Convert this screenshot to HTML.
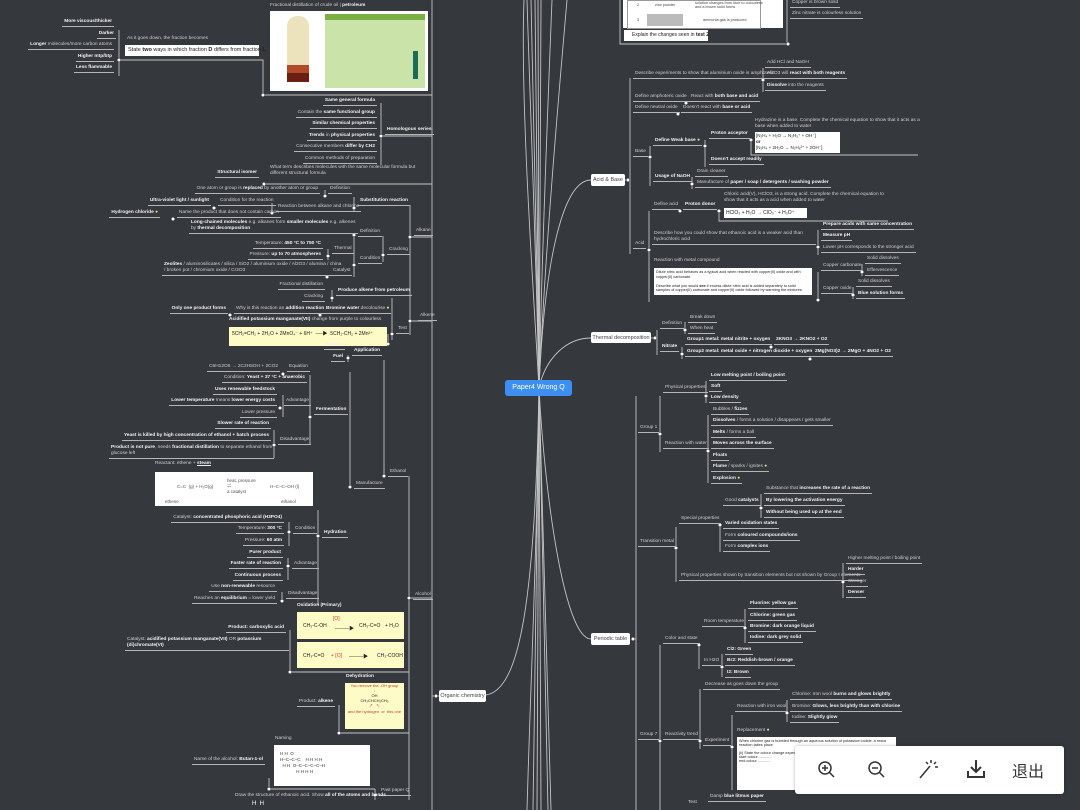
<!DOCTYPE html>
<html><head><meta charset="utf-8"><style>
body{margin:0;width:1080px;height:810px;overflow:hidden;background:#35383d;font-family:"Liberation Sans","Noto Sans CJK SC",sans-serif;}
#w{position:relative;width:1080px;height:810px;}
svg{position:absolute;left:0;top:0;}
.l{position:absolute;white-space:nowrap;font-size:4.8px;line-height:6px;color:#cfcfcf;border-bottom:0.8px solid #b5b5b5;padding:0 2px 1px 2px;}
.l b{color:#f2f2f2}
.nb{border-bottom:none}
.box{position:absolute;background:#fff;color:#222;font-size:5.5px;white-space:nowrap;}
.yb{position:absolute;background:#fdfbc6;color:#222;font-size:5px;}
.node{position:absolute;background:#fff;border-radius:2px;color:#444;font-size:5.5px;text-align:center;line-height:12px;}
</style></head><body><div id="w">
<svg width="1080" height="810" fill="none" stroke="#c4c4c4" stroke-width="0.9">
<!-- central curves -->
<path d="M539 388 C536 250 530 100 527 0"/><path d="M539 388 C537 250 533 100 531 0"/><path d="M539 388 C538 250 536 100 535 0"/>
<path d="M539 388 C539 250 538 100 538 0"/><path d="M539 388 C540 250 541 100 541 0"/><path d="M539 388 C542 250 548 100 552 0"/>
<path d="M539 388 C545 250 560 80 567 0"/><path d="M539 388 C534 300 520 100 524 0"/>
<path d="M539 388 C537 550 530 700 527 810"/><path d="M539 388 C538 550 534 700 533 810"/><path d="M539 388 C539 550 537 700 537 810"/>
<path d="M539 388 C540 550 541 700 541 810"/><path d="M539 388 C542 550 546 700 548 810"/><path d="M539 388 C543 550 548 700 551 810"/>
<path d="M539 388 C535 600 520 690 486 695"/>
<path d="M539 388 C545 250 565 180 591 180"/>
<path d="M539 388 C545 360 565 338 591 338"/>
<path d="M539 388 C545 500 565 639 591 639"/>
<!-- left main vertical -->
<path d="M432 0 V810"/><path d="M432 696 H439"/>
<path d="M409 476 V800"/><path d="M409 598 H432"/>
<!-- petroleum -->
<path d="M119 30 V76"/><path d="M119 60 H263 V95 H432"/><path d="M381 103 V165"/><path d="M381 136 H432"/>
<path d="M264 184 H432"/>
<path d="M410 205 V335"/><path d="M410 237 H432"/><path d="M410 321 H432"/>
<path d="M354 197 V212"/><path d="M325 190 V197"/><path d="M272 203 V214"/>
<path d="M383 236 V262"/><path d="M354 235 V277"/><path d="M328 249 V260"/>
<path d="M332 290 V302"/><path d="M392 298 V340"/><path d="M388 334 V345"/>
<path d="M348 355 V362"/><path d="M384 360 V478"/><path d="M350 372 V488"/><path d="M310 375 V445"/><path d="M283 395 V417"/><path d="M274 430 V458"/>
<path d="M318 510 V605"/><path d="M289 522 V546"/><path d="M288 558 V580"/><path d="M282 592 V603"/>
<path d="M290 630 V672 H409"/><path d="M339 705 V733 H409"/><path d="M269 778 V789 H375"/><path d="M375 789 V800"/>
<!-- right -->
<path d="M620 0 V44 H788"/><path d="M787 0 V44"/>
<path d="M625 180 H630"/><path d="M630 78 V254"/><path d="M763 68 V92"/><path d="M650 146 V186"/><path d="M705 140 V167"/><path d="M751 140 V155 H918"/>
<path d="M692 177 V189"/><path d="M649 211 V302"/><path d="M719 211 V221 H888"/><path d="M818 230 V255"/><path d="M818 272 V300"/><path d="M862 264 V276"/><path d="M853 287 V299"/>
<path d="M651 338 H657"/><path d="M657 330 V355"/><path d="M685 322 V334"/><path d="M682 347 V359"/>
<path d="M633 639 H636"/><path d="M636 396 V810"/><path d="M660 396 V452"/><path d="M706 381 V403"/><path d="M708 415 V483"/>
<path d="M676 527 V582"/><path d="M720 527 V552"/><path d="M761 494 V518"/><path d="M843 563 V598"/>
<path d="M660 645 V810"/><path d="M699 645 V669"/><path d="M745 609 V643"/><path d="M722 654 V677"/>
<path d="M700 689 V749"/><path d="M787 700 V722"/><path d="M732 715 V790"/>
<g fill="#fff" stroke="#35383d" stroke-width="0.6">
<circle cx="119" cy="60" r="1.8"/><circle cx="263" cy="95" r="1.8"/><circle cx="381" cy="136" r="1.8"/><circle cx="264" cy="184" r="1.8"/>
<circle cx="410" cy="237" r="1.8"/><circle cx="410" cy="321" r="1.8"/><circle cx="354" cy="208" r="1.8"/><circle cx="325" cy="196" r="1.8"/><circle cx="272" cy="213" r="1.8"/><circle cx="214" cy="208" r="1.8"/><circle cx="173" cy="219" r="1.8"/>
<circle cx="383" cy="255" r="1.8"/><circle cx="354" cy="235" r="1.8"/><circle cx="354" cy="265" r="1.8"/><circle cx="328" cy="256" r="1.8"/><circle cx="327" cy="277" r="1.8"/>
<circle cx="332" cy="298" r="1.8"/><circle cx="392" cy="334" r="1.8"/><circle cx="320" cy="315" r="1.8"/><circle cx="230" cy="315" r="1.8"/><circle cx="388" cy="344" r="1.8"/>
<circle cx="348" cy="358" r="1.8"/><circle cx="384" cy="476" r="1.8"/><circle cx="350" cy="487" r="1.8"/><circle cx="310" cy="417" r="1.8"/><circle cx="283" cy="374" r="1.8"/><circle cx="280" cy="408" r="1.8"/><circle cx="274" cy="445" r="1.8"/>
<circle cx="318" cy="536" r="1.8"/><circle cx="289" cy="532" r="1.8"/><circle cx="288" cy="566" r="1.8"/><circle cx="282" cy="601" r="1.8"/><circle cx="409" cy="598" r="1.8"/>
<circle cx="290" cy="672" r="1.8"/><circle cx="339" cy="733" r="1.8"/><circle cx="269" cy="789" r="1.8"/><circle cx="375" cy="795" r="1.8"/><circle cx="436" cy="696" r="1.8"/>
<circle cx="788" cy="44" r="1.8"/><circle cx="628" cy="180" r="1.8"/><circle cx="763" cy="80" r="1.8"/><circle cx="686" cy="103" r="1.8"/><circle cx="678" cy="114" r="1.8"/>
<circle cx="650" cy="157" r="1.8"/><circle cx="705" cy="146" r="1.8"/><circle cx="751" cy="140" r="1.8"/><circle cx="692" cy="184" r="1.8"/>
<circle cx="649" cy="250" r="1.8"/><circle cx="680" cy="211" r="1.8"/><circle cx="719" cy="211" r="1.8"/><circle cx="818" cy="247" r="1.8"/><circle cx="818" cy="300" r="1.8"/><circle cx="862" cy="272" r="1.8"/><circle cx="853" cy="295" r="1.8"/>
<circle cx="655" cy="338" r="1.8"/><circle cx="685" cy="330" r="1.8"/><circle cx="682" cy="354" r="1.8"/><circle cx="771" cy="347" r="1.8"/><circle cx="810" cy="359" r="1.8"/>
<circle cx="633" cy="639" r="1.8"/><circle cx="660" cy="434" r="1.8"/><circle cx="706" cy="396" r="1.8"/><circle cx="708" cy="451" r="1.8"/>
<circle cx="676" cy="548" r="1.8"/><circle cx="720" cy="525" r="1.8"/><circle cx="761" cy="508" r="1.8"/><circle cx="843" cy="582" r="1.8"/>
<circle cx="660" cy="741" r="1.8"/><circle cx="699" cy="645" r="1.8"/><circle cx="745" cy="628" r="1.8"/><circle cx="722" cy="667" r="1.8"/><circle cx="700" cy="741" r="1.8"/><circle cx="787" cy="713" r="1.8"/><circle cx="732" cy="747" r="1.8"/>
</g>
</svg>

<!-- center -->
<div style="position:absolute;left:505px;top:380px;width:67px;height:16px;background:#3d8ff2;border-radius:3px;color:#fff;font-size:7px;line-height:16px;text-align:center">Paper4 Wrong Q</div>
<div class="node" style="left:439px;top:690px;width:47px;height:12px">Organic chemistry</div>
<div class="node" style="left:591px;top:174px;width:34px;height:12px">Acid &amp; Base</div>
<div class="node" style="left:591px;top:332px;width:60px;height:11px">Thermal decomposition</div>
<div class="node" style="left:591px;top:633px;width:39px;height:12px">Periodic table</div>

<!-- petroleum -->
<div class="l" style="right:966px;top:19px"><b>More viscous/thicker</b></div>
<div class="l" style="right:964px;top:31px"><b>Darker</b></div>
<div class="l" style="right:966px;top:42px"><b>Longer</b> molecules/more carbon atoms</div>
<div class="l" style="right:966px;top:54px"><b>Higher mtp/btp</b></div>
<div class="l" style="right:966px;top:65px"><b>Less flammable</b></div>
<div class="l nb" style="left:125px;top:36px">As it goes down, the fraction becomes</div>
<div class="box" style="left:125px;top:45px;width:134px;height:11px;line-height:11px;padding-left:3px;box-sizing:border-box">State <b>two</b> ways in which fraction <b>D</b> differs from fraction <b>L</b>.</div>
<div class="l nb" style="left:268px;top:3px">Fractional distillation of crude oil | <b>petroleum</b></div>
<div style="position:absolute;left:270px;top:11px;width:158px;height:80px;background:#fff">
<div style="position:absolute;left:17px;top:5px;width:22px;height:60px;background:#ece3bd;border-radius:10px 10px 0 0"></div>
<div style="position:absolute;left:17px;top:54px;width:22px;height:8px;background:#b34a2a"></div>
<div style="position:absolute;left:17px;top:62px;width:22px;height:9px;background:#6b1f14"></div>
<div style="position:absolute;left:55px;top:3px;width:100px;height:74px;background:#c9e3a8"></div>
<div style="position:absolute;left:55px;top:3px;width:100px;height:6px;background:#7bb045"></div>
<div style="position:absolute;left:143px;top:40px;width:5px;height:28px;background:#1d6a5a"></div>
</div>

<div class="l" style="right:703px;top:98px"><b>Same general formula</b></div>
<div class="l" style="right:703px;top:110px">Contain the <b>same functional group</b></div>
<div class="l" style="right:703px;top:121px"><b>Similar chemical properties</b></div>
<div class="l" style="right:703px;top:133px"><b>Trends</b> in <b>physical properties</b></div>
<div class="l" style="right:703px;top:144px">Consecutive members <b>differ by CH2</b></div>
<div class="l" style="right:703px;top:156px">Common methods of preparation</div>
<div class="l" style="left:385px;top:127px"><b>Homologous series</b></div>
<div class="l nb" style="left:268px;top:165px;white-space:normal;width:150px">What term describes molecules with the same molecular formula but different structural formula</div>
<div class="l" style="right:821px;top:170px"><b>Structural isomer</b></div>

<div class="l" style="right:760px;top:186px">One atom or group is <b>replaced</b> by another atom or group</div>
<div class="l" style="left:328px;top:186px">Definition</div>
<div class="l" style="left:358px;top:198px"><b>Substitution reaction</b></div>
<div class="l" style="left:276px;top:204px">Reaction between alkane and chlorine</div>
<div class="l" style="right:869px;top:198px"><b>Ultra-violet light / sunlight</b></div>
<div class="l" style="left:218px;top:198px">Condition for the reaction</div>
<div class="l" style="right:920px;top:210px"><b>Hydrogen chloride</b> <span style="color:#e8d98a">●</span></div>
<div class="l" style="left:177px;top:210px">Name the product that does not contain carbon</div>
<div class="l" style="left:414px;top:228px">Alkane</div>
<div class="l" style="left:189px;top:220px;line-height:6px"><b>Long-chained molecules</b> e.g. alkanes form <b>smaller molecules</b> e.g. alkenes<br>by <b>thermal decomposition</b></div>
<div class="l" style="left:358px;top:229px">Definition</div>
<div class="l" style="left:387px;top:247px">Cracking</div>
<div class="l" style="left:358px;top:256px">Condition</div>
<div class="l" style="left:332px;top:246px">Thermal</div>
<div class="l" style="right:757px;top:241px">Temperature: <b>450 °C to 750 °C</b></div>
<div class="l" style="right:757px;top:252px">Pressure: <b>up to 70 atmospheres</b></div>
<div class="l" style="left:331px;top:268px">Catalyst</div>
<div class="l" style="left:162px;top:262px"><b>Zeolites</b> / aluminosilicates / silica / SiO2 / aluminium oxide / Al2O3 / alumina / china<br>/ broken pot / chromium oxide / Cr2O3</div>

<div class="l" style="right:755px;top:282px">Fractional distillation</div>
<div class="l" style="right:755px;top:294px">Cracking</div>
<div class="l" style="left:336px;top:288px"><b>Produce alkene from petroleum</b></div>
<div class="l" style="left:418px;top:313px">Alkene</div>
<div class="l" style="left:396px;top:326px">Test</div>
<div class="l" style="left:324px;top:306px"><b>Bromine water</b> decolourise <span style="color:#e8d98a">●</span></div>
<div class="l" style="left:234px;top:306px">Why is this reaction an <b>addition reaction</b></div>
<div class="l" style="right:852px;top:306px"><b>Only one product forms</b></div>
<div class="l nb" style="left:227px;top:317px"><b>Acidified potassium manganate(VII)</b> change from purple to colourless</div>
<div class="yb" style="left:229px;top:327px;width:158px;height:19px;padding:3px;box-sizing:border-box">5CH₂=CH₂ + 2H₂O + 2MnO₄⁻ + 6H⁺ &nbsp;──▶ &nbsp;5CH₂-CH₂ + 2Mn²⁺</div>

<!-- ethanol -->
<div class="l" style="right:735px;top:342px"><b>Solvent</b></div>
<div class="l" style="right:735px;top:354px"><b>Fuel</b></div>
<div class="l" style="left:352px;top:348px"><b>Application</b></div>
<div class="l" style="left:388px;top:469px">Ethanol</div>
<div class="l" style="left:354px;top:481px">Manufacture</div>
<div class="l" style="left:314px;top:407px"><b>Fermentation</b></div>
<div class="l" style="right:800px;top:364px">C6H12O6 → 2C2H5OH + 2CO2</div>
<div class="l" style="left:287px;top:364px">Equation</div>
<div class="l" style="right:773px;top:375px">Condition: <b>Yeast + 37 °C + anaerobic</b></div>
<div class="l" style="right:803px;top:387px"><b>Uses renewable feedstock</b></div>
<div class="l" style="right:803px;top:398px"><b>Lower temperature</b> means <b>lower energy costs</b></div>
<div class="l" style="right:803px;top:410px">Lower pressure</div>
<div class="l" style="left:284px;top:398px">Advantage</div>
<div class="l" style="right:809px;top:421px"><b>Slower rate of reaction</b></div>
<div class="l" style="right:809px;top:433px"><b>Yeast is killed by high concentration of ethanol + batch process</b></div>
<div class="l" style="left:278px;top:437px">Disadvantage</div>
<div class="l" style="left:109px;top:445px"><b>Product is not pure</b>, needs <b>fractional distillation</b> to separate ethanol from<br>glucose left</div>
<div class="l nb" style="left:153px;top:461px">Reactant: ethene + <b style="text-decoration:underline">steam</b></div>
<div class="box" style="left:155px;top:472px;width:158px;height:34px;font-size:4.5px;color:#555"><span style="position:absolute;left:22px;top:12px">C=C &nbsp;(g) + H₂O(g)</span><span style="position:absolute;left:72px;top:6px">heat, pressure<br>⇌<br>a catalyst</span><span style="position:absolute;left:115px;top:12px">H–C–C–OH (l)</span><span style="position:absolute;left:10px;top:27px">ethene</span><span style="position:absolute;left:126px;top:27px">ethanol</span></div>
<div class="l" style="left:322px;top:530px"><b>Hydration</b></div>
<div class="l" style="left:293px;top:526px">Condition</div>
<div class="l" style="right:796px;top:515px">Catalyst: <b>concentrated phosphoric acid (H3PO4)</b></div>
<div class="l" style="right:796px;top:526px">Temperature: <b>300 °C</b></div>
<div class="l" style="right:796px;top:538px">Pressure: <b>60 atm</b></div>
<div class="l" style="right:797px;top:550px"><b>Purer product</b></div>
<div class="l" style="right:797px;top:561px"><b>Faster rate of reaction</b></div>
<div class="l" style="right:797px;top:573px"><b>Continuous process</b></div>
<div class="l" style="left:292px;top:561px">Advantage</div>
<div class="l" style="right:803px;top:584px">Use <b>non-renewable</b> resource</div>
<div class="l" style="right:803px;top:596px">Reaches an <b>equilibrium</b> = lower yield</div>
<div class="l" style="left:286px;top:591px">Disadvantage</div>
<div class="l" style="left:413px;top:592px">Alcohol</div>
<div class="l nb" style="left:295px;top:603px"><b>Oxidation (Primary)</b></div>
<div class="yb" style="left:297px;top:612px;width:107px;height:27px"><span style="position:absolute;left:6px;top:11px">CH₃-C-OH</span><span style="position:absolute;left:36px;top:4px;color:#d33">[O]</span><span style="position:absolute;left:38px;top:13px">────▶</span><span style="position:absolute;left:62px;top:11px">CH₃-C=O</span><span style="position:absolute;left:88px;top:11px">+ H₂O</span></div>
<div class="yb" style="left:297px;top:642px;width:107px;height:26px"><span style="position:absolute;left:6px;top:11px">CH₃-C=O</span><span style="position:absolute;left:34px;top:11px;color:#d33">+ [O]</span><span style="position:absolute;left:52px;top:11px">────▶</span><span style="position:absolute;left:80px;top:11px">CH₃-COOH</span></div>
<div class="l" style="right:794px;top:625px"><b>Product: carboxylic acid</b></div>
<div class="l" style="left:125px;top:637px;width:160px;white-space:normal">Catalyst: <b>acidified potassium manganate(VII)</b> OR <b>potassium (di)chromate(VI)</b></div>
<div class="l nb" style="left:344px;top:674px"><b>Dehydration</b></div>
<div class="yb" style="left:345px;top:683px;width:59px;height:46px;font-size:4px;text-align:center;color:#c33">You remove the -OH group<br>↓<br><span style="color:#222">OH<br>CH₃CHCH₂CH₃</span><br>↗ &nbsp; ↖<br>and the hydrogen &nbsp;or &nbsp;this one</div>
<div class="l" style="right:745px;top:699px">Product: <b>alkene</b></div>
<div class="l nb" style="left:273px;top:736px">Naming</div>
<div class="box" style="left:274px;top:745px;width:96px;height:41px;font-size:4.5px;color:#333"><span style="position:absolute;left:6px;top:6px;line-height:6px">H H &nbsp;O<br>H–C–C–C &nbsp;&nbsp; H H H H<br>&nbsp;&nbsp;H H &nbsp;O–C–C–C–C–H<br>&nbsp;&nbsp;&nbsp;&nbsp;&nbsp;&nbsp;&nbsp;&nbsp;&nbsp;&nbsp;&nbsp;&nbsp; H H H H</span></div>
<div class="l" style="right:815px;top:757px">Name of the alcohol: <b>Butan-1-ol</b></div>
<div class="l" style="left:379px;top:788px">Past paper Q</div>
<div class="l nb" style="left:233px;top:793px">Draw the structure of ethanoic acid. Show <b>all of the atoms and bonds</b>.</div>
<div class="l nb" style="left:250px;top:801px;font-size:6px;color:#fff">H &nbsp;H</div>

<!-- right top -->
<div class="box" style="left:623px;top:0;width:160px;height:28px;font-size:3.8px;color:#444"><div style="position:absolute;left:4px;top:0;width:132px;height:27px;border:0.5px solid #999"></div><span style="position:absolute;left:14px;top:3px">2</span><span style="position:absolute;left:32px;top:3px">zinc powder</span><span style="position:absolute;left:72px;top:1px">solution changes from blue to colourless<br>and a brown solid forms</span><span style="position:absolute;left:14px;top:18px">3</span><div style="position:absolute;left:24px;top:14px;width:36px;height:12px;background:#bbb"></div><span style="position:absolute;left:80px;top:18px">ammonia gas is produced</span></div>
<div class="box" style="left:624px;top:30px;width:84px;height:11px;line-height:11px;font-size:5px;padding-left:8px;box-sizing:border-box">Explain the changes seen in <b>test 2</b>.</div>
<div class="l" style="left:790px;top:0px">Copper is brown solid</div>
<div class="l" style="left:790px;top:11px">Zinc nitrate is colourless solution</div>

<div class="l" style="left:633px;top:71px">Describe experiments to show that aluminium oxide is amphoteric</div>
<div class="l" style="left:765px;top:60px">Add HCl and NaOH</div>
<div class="l" style="left:765px;top:71px">Al2O3 will <b>react with both reagents</b></div>
<div class="l" style="left:765px;top:83px"><b>Dissolve</b> into the reagents</div>
<div class="l" style="left:633px;top:94px">Define amphoteric oxide</div>
<div class="l" style="left:689px;top:94px">React with <b>both base and acid</b></div>
<div class="l" style="left:633px;top:105px">Define neutral oxide</div>
<div class="l" style="left:681px;top:105px">Doesn't react with <b>base or acid</b></div>
<div class="l" style="left:633px;top:149px">Base</div>
<div class="l" style="left:653px;top:138px"><b>Define Weak base</b> <span style="color:#e8d98a">●</span></div>
<div class="l" style="left:709px;top:131px"><b>Proton acceptor</b></div>
<div class="l nb" style="left:753px;top:118px;width:165px;white-space:normal">Hydrazine is a base. Complete the chemical equation to show that it acts as a base when added to water</div>
<div class="box" style="left:755px;top:132px;width:83px;height:19px;font-size:4.5px;line-height:6px;padding:1px">[N₂H₄ + H₂O → N₂H₅⁺ + OH⁻]<br><b>or</b><br>[N₂H₄ + 2H₂O → N₂H₆²⁺ + 2OH⁻]</div>
<div class="l" style="left:709px;top:157px"><b>Doesn't accept readily</b></div>
<div class="l" style="left:653px;top:174px"><b>Usage of NaOH</b></div>
<div class="l" style="left:695px;top:169px">Drain cleaner</div>
<div class="l" style="left:695px;top:180px">Manufacture of <b>paper / soap / detergents / washing powder</b></div>
<div class="l" style="left:652px;top:202px">Define acid</div>
<div class="l" style="left:683px;top:202px"><b>Proton donor</b></div>
<div class="l nb" style="left:722px;top:192px;width:160px;white-space:normal">Chloric acid(V), HClO3, is a strong acid. Complete the chemical equation to show that it acts as a acid when added to water</div>
<div class="box" style="left:724px;top:208px;width:81px;height:10px;font-size:5px;line-height:10px;padding-left:2px">HClO₃ + H₂O → ClO₃⁻ + H₃O⁺</div>
<div class="l" style="left:633px;top:241px">Acid</div>
<div class="l" style="left:652px;top:231px;width:160px;white-space:normal">Describe how you could show that ethanoic acid is a weaker acid than hydrochloric acid</div>
<div class="l" style="left:821px;top:222px"><b>Prepare acids with same concentration</b></div>
<div class="l" style="left:821px;top:233px"><b>Measure pH</b></div>
<div class="l" style="left:821px;top:245px">Lower pH corresponds to the stronger acid</div>
<div class="l nb" style="left:652px;top:258px">Reaction with metal compound</div>
<div class="box" style="left:654px;top:268px;width:158px;height:27px;font-size:3.8px;line-height:4.5px;padding:2px;white-space:normal;box-sizing:border-box">Dilute nitric acid behaves as a typical acid when reacted with copper(II) oxide and with copper(II) carbonate.<br><br>Describe what you would <b>see</b> if excess dilute nitric acid is added separately to solid samples of copper(II) carbonate and copper(II) oxide followed by warming the mixtures.</div>
<div class="l" style="left:821px;top:263px">Copper carbonate</div>
<div class="l" style="left:865px;top:256px">Solid dissolves</div>
<div class="l" style="left:865px;top:268px">Effervescence</div>
<div class="l" style="left:821px;top:286px">Copper oxide</div>
<div class="l" style="left:856px;top:279px">Solid dissolves</div>
<div class="l" style="left:856px;top:291px"><b>Blue solution forms</b></div>

<div class="l" style="left:660px;top:321px">Definition</div>
<div class="l" style="left:688px;top:315px">Break down</div>
<div class="l" style="left:688px;top:326px">When heat</div>
<div class="l" style="left:660px;top:344px"><b>Nitrate</b></div>
<div class="l" style="left:685px;top:337px"><b>Group1 metal: metal nitrite + oxygen</b></div>
<div class="l" style="left:774px;top:337px"><b>2KNO3 → 2KNO2 + O2</b></div>
<div class="l" style="left:685px;top:349px"><b>Group2 metal: metal oxide + nitrogen dioxide + oxygen</b></div>
<div class="l" style="left:813px;top:349px"><b>2Mg(NO3)2 → 2MgO + 4NO2 + O2</b></div>

<div class="l" style="left:663px;top:385px">Physical properties</div>
<div class="l" style="left:709px;top:373px"><b>Low melting point / boiling point</b></div>
<div class="l" style="left:709px;top:384px"><b>Soft</b></div>
<div class="l" style="left:709px;top:395px"><b>Low density</b></div>
<div class="l" style="left:638px;top:425px">Group 1</div>
<div class="l" style="left:663px;top:441px">Reaction with water</div>
<div class="l" style="left:711px;top:407px">Bubbles / <b>fizzes</b></div>
<div class="l" style="left:711px;top:418px"><b>Dissolves</b> / forms a solution / disappears / gets smaller</div>
<div class="l" style="left:711px;top:430px"><b>Melts</b> / forms a ball</div>
<div class="l" style="left:711px;top:441px"><b>Moves across the surface</b></div>
<div class="l" style="left:711px;top:453px"><b>Floats</b></div>
<div class="l" style="left:711px;top:464px"><b>Flame</b> / sparks / ignites <span style="color:#e8d98a">●</span></div>
<div class="l" style="left:711px;top:476px"><b>Explosion</b> <span style="color:#e8d98a">●</span></div>
<div class="l" style="left:638px;top:539px">Transition metal</div>
<div class="l" style="left:679px;top:516px">Special properties</div>
<div class="l" style="left:723px;top:498px">Good <b>catalysts</b></div>
<div class="l" style="left:764px;top:486px">Substance that <b>increases the rate of a reaction</b></div>
<div class="l" style="left:764px;top:498px"><b>By lowering the activation energy</b></div>
<div class="l" style="left:764px;top:510px"><b>Without being used up at the end</b></div>
<div class="l" style="left:723px;top:521px"><b>Varied oxidation states</b></div>
<div class="l" style="left:723px;top:533px">Form <b>coloured compounds/ions</b></div>
<div class="l" style="left:723px;top:544px">Form <b>complex ions</b></div>
<div class="l" style="left:679px;top:573px">Physical properties shown by transition elements but not shown by Group I elements</div>
<div class="l" style="left:846px;top:556px">Higher melting point / boiling point</div>
<div class="l" style="left:846px;top:567px"><b>Harder</b></div>
<div class="l" style="left:846px;top:579px">Stronger</div>
<div class="l" style="left:846px;top:590px"><b>Denser</b></div>
<div class="l" style="left:663px;top:636px">Color and state</div>
<div class="l" style="left:702px;top:619px">Room temperature</div>
<div class="l" style="left:748px;top:601px"><b>Fluorine: yellow gas</b></div>
<div class="l" style="left:748px;top:613px"><b>Chlorine: green gas</b></div>
<div class="l" style="left:748px;top:624px"><b>Bromine: dark orange liquid</b></div>
<div class="l" style="left:748px;top:635px"><b>Iodine: dark grey solid</b></div>
<div class="l" style="left:702px;top:658px">In H2O</div>
<div class="l" style="left:725px;top:647px"><b>Cl2: Green</b></div>
<div class="l" style="left:725px;top:658px"><b>Br2: Reddish-brown / orange</b></div>
<div class="l" style="left:725px;top:670px"><b>I2: Brown</b></div>
<div class="l" style="left:638px;top:732px">Group 7</div>
<div class="l" style="left:663px;top:732px">Reactivity trend</div>
<div class="l" style="left:703px;top:682px">Decrease as goes down the group</div>
<div class="l" style="left:735px;top:704px">Reaction with iron wool</div>
<div class="l" style="left:790px;top:692px">Chlorine: Iron wool <b>burns and glows brightly</b></div>
<div class="l" style="left:790px;top:704px">Bromine: <b>Glows, less brightly than with chlorine</b></div>
<div class="l" style="left:790px;top:715px">Iodine: <b>Slightly glow</b></div>
<div class="l nb" style="left:735px;top:728px">Replacement <span style="color:#e8d98a">●</span></div>
<div class="l" style="left:703px;top:738px">Experiment</div>
<div class="box" style="left:737px;top:737px;width:159px;height:53px;font-size:3.8px;padding:2px;box-sizing:border-box;white-space:normal">When chlorine gas is bubbled through an aqueous solution of potassium iodide, a redox reaction takes place.<br><br>(ii) State the colour change expected.<br>start colour ............<br>end colour ............</div>
<div class="l nb" style="left:686px;top:800px">Test</div>
<div class="l" style="left:708px;top:794px">Damp <b>blue litmus paper</b></div>

<!-- toolbar -->
<div style="position:absolute;left:795px;top:746px;width:269px;height:48px;background:#fff;border-radius:3px;box-shadow:0 0 3px rgba(0,0,0,.3)">
<svg width="269" height="48" stroke="#333" stroke-width="1.5" fill="none">
<circle cx="30" cy="22" r="6"/><path d="M34 26 L39 31 M27 22 H33 M30 19 V25"/>
<circle cx="80" cy="22" r="6"/><path d="M84 26 L89 31 M77 22 H83"/>
<path d="M125 32 L135 20 M136 14 V17 M131 16 L133 18 M141 16 L139 18 M140 21 H143"/>
<path d="M181 14 V26 M176 21 L181 26 L186 21" stroke-width="2"/><path d="M173 25 V31 H189 V25" stroke-width="2"/>
</svg>
<div style="position:absolute;left:217px;top:12px;font-size:16px;color:#333;font-family:'Noto Sans CJK SC',sans-serif">退出</div>
</div>
</div></body></html>
